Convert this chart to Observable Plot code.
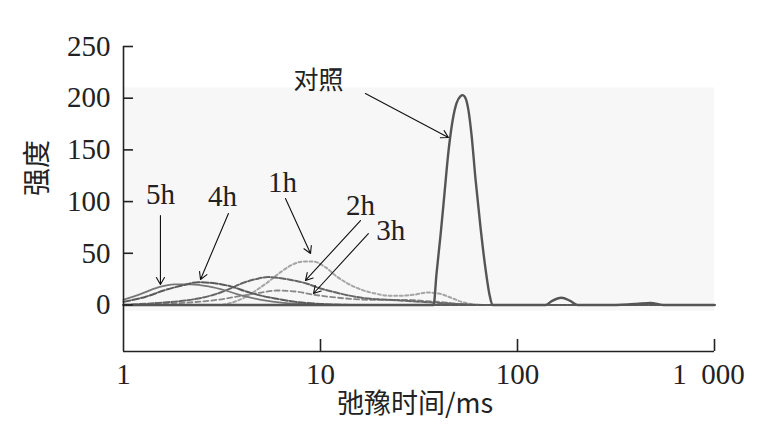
<!DOCTYPE html>
<html><head><meta charset="utf-8">
<script src="https://cdn.jsdelivr.net/npm/d3@7"></script>
<script src="https://cdn.jsdelivr.net/npm/@observablehq/plot@0.6"></script>
<style>body{margin:0;background:#fff}</style>
</head><body><div id="chart"></div>
<script>
const yTicks = [0, 50, 100, 150, 200, 250];
const xTickValues = [1, 10, 100];
const xTickLast = [1000];
const xTickMarks = [10, 100, 1000];
const xTickLabel = {1: "1", 10: "10", 100: "100", 1000: "1\u2002000"};

const ctrlX = [1, 3, 10, 20, 30, 36, 37.5, 38.8, 40.7, 42.6, 44.6, 46.8, 49.0, 51.4, 52.6, 54.5, 56.4, 58.4, 61.2, 64.9, 68.8, 72.1, 74.7, 80, 100, 125, 139, 150, 167, 185, 202, 230, 300, 400, 473, 550, 700, 1000];
const ctrlY = [0, 0, 0, 0, 0, 0, 0, 30, 68, 108, 148, 178, 195, 202, 203, 200, 188, 165, 122, 75, 35, 10, 0, 0, 0, 0, 0, 4, 7, 4, 0, 0, 0, 1, 2, 0, 0, 0];
const h1X = [1, 2, 3, 3.5, 4, 4.7, 5.4, 6.2, 7.2, 8.2, 9.2, 10.5, 12.2, 14, 16, 19, 22, 26, 30, 35, 40, 46, 52, 58, 65, 100, 1000];
const h1Y = [0, 0, 0, 2, 6, 14, 22, 31, 39, 42, 42, 37, 27, 20, 15, 11, 9, 9, 10, 12, 11, 7, 3, 1, 0, 0, 0];
const h2X = [1, 1.5, 2, 2.5, 3, 3.5, 4, 4.7, 5.4, 6.2, 7.2, 8.4, 10, 12, 15, 18, 22, 27, 33, 40, 50, 70, 1000];
const h2Y = [0, 2, 4, 7, 11, 16, 21, 25, 27, 26, 24, 21, 16, 12, 8, 6, 5, 4, 3, 2, 1, 0, 0];
const h3X = [1, 2, 3, 4, 5, 6, 7.5, 9.2, 11, 14, 18, 22, 27, 33, 40, 50, 60, 1000];
const h3Y = [0, 2, 5, 9, 12, 14, 13, 10, 8, 6, 5, 5, 5, 4, 3, 1, 0, 0];
const h4X = [1, 1.3, 1.6, 2, 2.4, 2.9, 3.5, 4.2, 5, 6, 7.5, 10, 15, 1000];
const h4Y = [3, 8, 14, 19, 22, 21, 18, 13, 9, 6, 3, 1, 0, 0];
const h5X = [1, 1.2, 1.5, 1.8, 2.2, 2.7, 3.3, 4, 5, 6.5, 8, 12, 1000];
const h5Y = [5, 10, 17, 20, 20, 18, 14, 9, 5, 2, 1, 0, 0];

const labelNames = ["对照", "5h", "4h", "1h", "2h", "3h"];
const labelX = [9.77, 1.54, 3.18, 6.41, 15.96, 22.7];
const labelY = [209, 98, 96, 109, 86.6, 62.4];
const arrowX1 = [16.9, 1.54, 3.41, 6.64, 15.96, 17.5];
const arrowY1 = [204.5, 86.6, 88.5, 103, 81.7, 69.1];
const arrowX2 = [44.6, 1.54, 2.46, 8.9, 8.39, 9.21];
const arrowY2 = [162, 19.8, 24.7, 49.8, 23.7, 11.1];

const pts = (xs, ys) => xs.map((x, i) => ({x, y: ys[i]}));
const labels = labelNames.map((t, i) => ({t, x: labelX[i], y: labelY[i]}));
const arrows = labelNames.map((t, i) => ({x1: arrowX1[i], y1: arrowY1[i], x2: arrowX2[i], y2: arrowY2[i]}));

const serif = "Liberation Serif";
const cjk = "Noto Sans CJK SC";

const chart = Plot.plot({
  width: 758, height: 432,
  marginLeft: 123, marginRight: 44, marginTop: 46, marginBottom: 81,
  x: {type: "log", domain: [1, 1000], axis: null},
  y: {domain: [-45, 250], axis: null},
  style: {fontFamily: serif, color: "#222", background: "#fff"},
  marks: [
    Plot.rect([0], {x1: 1, x2: 1000, y1: -6, y2: 210, fill: "#f7f7f7"}),
    Plot.line(pts(h1X, h1Y), {x: "x", y: "y", stroke: "#a5a5a5", strokeWidth: 2, strokeDasharray: "3,2.5", curve: "monotone-x"}),
    Plot.line(pts(h3X, h3Y), {x: "x", y: "y", stroke: "#888", strokeWidth: 1.8, strokeDasharray: "5,3", curve: "monotone-x"}),
    Plot.line(pts(h2X, h2Y), {x: "x", y: "y", stroke: "#666", strokeWidth: 2, strokeDasharray: "6,2", curve: "monotone-x"}),
    Plot.line(pts(h5X, h5Y), {x: "x", y: "y", stroke: "#777", strokeWidth: 1.8, curve: "monotone-x"}),
    Plot.line(pts(h4X, h4Y), {x: "x", y: "y", stroke: "#5a5a5a", strokeWidth: 2, strokeDasharray: "7,2", curve: "monotone-x"}),
    Plot.line(pts(ctrlX, ctrlY), {x: "x", y: "y", stroke: "#555", strokeWidth: 2.4, curve: "monotone-x"}),
    Plot.arrow(arrows, {x1: "x1", y1: "y1", x2: "x2", y2: "y2", stroke: "#111", strokeWidth: 1.1, headLength: 11}),
    Plot.text(labels.filter(d => d.t === "对照"), {x: "x", y: "y", text: "t", fontSize: 25, fontFamily: cjk, lineAnchor: "bottom", fill: "#222"}),
    Plot.text(labels.filter(d => d.t !== "对照"), {x: "x", y: "y", text: "t", fontSize: 29, fontFamily: serif, lineAnchor: "bottom", fill: "#222"}),
    Plot.ruleX([1], {y1: -45, y2: 250, stroke: "#222", strokeWidth: 1.6}),
    Plot.ruleY([-45], {stroke: "#222", strokeWidth: 1.6}),
    Plot.tickY(yTicks, {y: d => d, insetRight: 581, stroke: "#222", strokeWidth: 1.6}),
    Plot.tickX(xTickMarks, {x: d => d, insetTop: 293, stroke: "#222", strokeWidth: 1.6}),
    Plot.text(yTicks, {y: d => d, frameAnchor: "left", text: d => String(d), textAnchor: "end", dx: -13, fontSize: 29, fontFamily: serif, fill: "#222"}),
    Plot.text(xTickValues, {x: d => d, frameAnchor: "bottom", text: d => xTickLabel[d], dy: 32, fontSize: 29, fontFamily: serif, fill: "#222"}),
    Plot.text(xTickLast, {x: d => d, frameAnchor: "bottom", text: d => xTickLabel[d], dy: 32, dx: -6, fontSize: 29, fontFamily: serif, fill: "#222"}),
    Plot.text(["弛豫时间/ms"], {frameAnchor: "bottom", text: d => d, dy: 61, dx: -4, fontSize: 27, fontFamily: cjk, fill: "#222"}),
    Plot.text(["强度"], {frameAnchor: "left", text: d => d, rotate: -90, dx: -85, dy: -3, fontSize: 28, fontFamily: cjk, fill: "#222"})
  ]
});
document.getElementById("chart").appendChild(chart);
</script>
</body></html>
